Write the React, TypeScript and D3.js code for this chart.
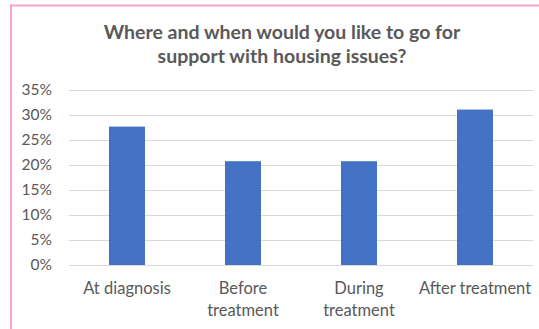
import React from "react";
import * as d3 from "d3";

const categories: string[][] = [
  ["At diagnosis"],
  ["Before", "treatment"],
  ["During", "treatment"],
  ["After treatment"],
];
const values: number[] = [0.276, 0.207, 0.207, 0.31];
const yTicks: number[] = [0, 0.05, 0.1, 0.15, 0.2, 0.25, 0.3, 0.35];
const titleLines: string[] = ["Where and when would you like to go for", "support with housing issues?"];

const W = 539;
const H = 329;
const plotLeft = 69;
const plotRight = 533;
const plotTop = 89.5;
const plotBottom = 265;
const textColor = "#595959";
const gridColor = "#d9d9d9";
const barColor = "#4472c4";
const font = "Lato, 'Open Sans', sans-serif";

export default function App() {
  const x = d3
    .scaleBand<number>()
    .domain(categories.map((_, i) => i))
    .range([plotLeft, plotRight])
    .paddingInner(0.69)
    .paddingOuter(0.345);
  const y = d3.scaleLinear().domain([0, 0.35]).range([plotBottom, plotTop]);
  const fmt = d3.format(".0%");

  return (
    <svg
      width={W}
      height={H}
      style={{ position: "absolute", left: 0, top: 0, background: "#fff" }}
    >
      <rect x={0} y={0} width={W} height={H} fill="#fff" />
      {/* pink border */}
      <line x1={10} x2={W} y1={5.5} y2={5.5} stroke="#f5a3d0" strokeWidth={2} />
      <line x1={11} x2={11} y1={4.5} y2={H} stroke="#f5a3d0" strokeWidth={2} />

      {titleLines.map((t, i) => (
        <text
          key={i}
          x={282}
          y={38.5 + i * 24.5}
          textAnchor="middle"
          fontFamily={font}
          fontWeight="bold"
          fontSize={19.5}
          fill={textColor}
        >
          {t}
        </text>
      ))}

      {yTicks.map((t) => (
        <g key={t}>
          <line
            x1={plotLeft}
            x2={plotRight}
            y1={Math.round(y(t)) + 0.5}
            y2={Math.round(y(t)) + 0.5}
            stroke={gridColor}
            strokeWidth={1}
          />
          <text
            x={52}
            y={y(t)}
            dy="0.35em"
            textAnchor="end"
            fontFamily={font}
            fontSize={15.5}
            fill={textColor}
          >
            {fmt(t)}
          </text>
        </g>
      ))}

      {values.map((v, i) => (
        <rect
          key={i}
          x={x(i)}
          y={y(v)}
          width={x.bandwidth()}
          height={plotBottom - y(v)}
          fill={barColor}
        />
      ))}

      {categories.map((lines, i) => (
        <text
          key={i}
          x={(x(i) as number) + x.bandwidth() / 2}
          y={293.5}
          textAnchor="middle"
          fontFamily={font}
          fontSize={16.5}
          fill={textColor}
        >
          {lines.map((l, j) => (
            <tspan key={j} x={(x(i) as number) + x.bandwidth() / 2} dy={j === 0 ? 0 : 22}>
              {l}
            </tspan>
          ))}
        </text>
      ))}
    </svg>
  );
}
